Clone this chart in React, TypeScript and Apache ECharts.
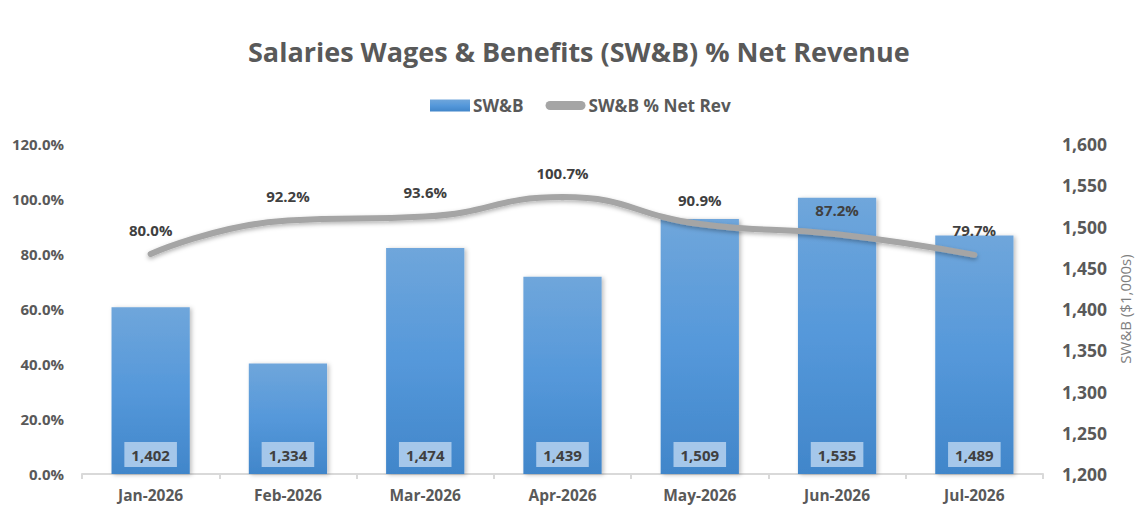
import React, { useEffect, useRef } from "react";
import * as echarts from "echarts";

const categories = ["Jan-2026", "Feb-2026", "Mar-2026", "Apr-2026", "May-2026", "Jun-2026", "Jul-2026"];
const swbValues = [1402, 1334, 1474, 1439, 1509, 1535, 1489];
const pctValues = [80.0, 92.2, 93.6, 100.7, 90.9, 87.2, 79.7];

const FONT = "Open Sans";
const AXIS_COLOR = "#595959";
const LINE_ICON = "path://M5,0 L39,0 A5,5 0 0 1 39,10 L5,10 A5,5 0 0 1 5,0 Z";

export default function App() {
  const ref = useRef<HTMLDivElement>(null);
  useEffect(() => {
    if (!ref.current) return;
    const chart = echarts.init(ref.current, null, { renderer: "svg" });
    chart.setOption({
      animation: false,
      backgroundColor: "#ffffff",
      textStyle: { fontFamily: FONT },
      title: {
        text: "Salaries Wages & Benefits (SW&B) % Net Revenue",
        left: 243,
        top: 33,
        textStyle: { fontFamily: FONT, fontSize: 27, fontWeight: "bold", color: AXIS_COLOR },
      },
      legend: {
        top: 92,
        left: 425,
        itemWidth: 40,
        itemHeight: 12,
        itemGap: 22,
        textStyle: { fontFamily: FONT, fontSize: 17.2, fontWeight: "bold", color: AXIS_COLOR, padding: [0, 0, 0, -2] },
        data: [
          { name: "SW&B", icon: "rect" },
          { name: "SW&B % Net Rev", icon: LINE_ICON, itemStyle: { color: "#a5a5a5" } },
        ],
      },
      grid: { left: 82, right: 101, top: 144, bottom: 43, containLabel: false },
      xAxis: {
        type: "category",
        data: categories,
        boundaryGap: true,
        axisLine: { show: true, lineStyle: { color: "#d9d9d9", width: 2 } },
        axisTick: { show: true, alignWithLabel: false, length: 5, lineStyle: { color: "#d9d9d9", width: 2 } },
        axisLabel: { fontFamily: FONT, fontSize: 15.5, fontWeight: "bold", color: AXIS_COLOR, margin: 13 },
      },
      yAxis: [
        {
          type: "value",
          min: 0,
          max: 120,
          interval: 20,
          position: "left",
          splitLine: { show: false },
          axisLine: { show: false },
          axisTick: { show: false },
          axisLabel: {
            fontFamily: FONT,
            fontSize: 15,
            fontWeight: "bold",
            color: AXIS_COLOR,
            margin: 18,
            formatter: (v: number) => v.toFixed(1) + "%",
          },
        },
        {
          type: "value",
          min: 1200,
          max: 1600,
          interval: 50,
          position: "right",
          splitLine: { show: false },
          axisLine: { show: false },
          axisTick: { show: false },
          name: "SW&B ($1,000s)",
          nameLocation: "middle",
          nameRotate: 90,
          nameGap: 74,
          nameTextStyle: { fontFamily: FONT, fontSize: 15, color: "#7f7f7f" },
          axisLabel: {
            fontFamily: FONT,
            fontSize: 17.5,
            fontWeight: "bold",
            color: AXIS_COLOR,
            margin: 19,
            formatter: (v: number) => v.toLocaleString("en-US"),
          },
        },
      ],
      series: [
        {
          name: "SW&B",
          type: "bar",
          yAxisIndex: 1,
          data: swbValues,
          barWidth: "57%",
          itemStyle: {
            color: new echarts.graphic.LinearGradient(0, 0, 0, 1, [
              { offset: 0, color: "#6fa6db" },
              { offset: 0.5, color: "#5598da" },
              { offset: 1, color: "#4186ca" },
            ]),
            shadowColor: "rgba(0,0,0,0.25)",
            shadowBlur: 4,
            shadowOffsetX: 2,
            shadowOffsetY: 1,
          },
          label: {
            show: true,
            position: "insideBottom",
            distance: 7,
            fontFamily: FONT,
            fontSize: 15,
            fontWeight: "bold",
            color: "#404040",
            backgroundColor: "#a5c7ea",
            padding: [5, 7, 5, 7],
            formatter: (p: any) => Number(p.value).toLocaleString("en-US"),
          },
        },
        {
          name: "SW&B % Net Rev",
          type: "line",
          yAxisIndex: 0,
          data: pctValues,
          smooth: 0.5,
          symbol: "circle",
          symbolSize: 2,
          showSymbol: true,
          lineStyle: {
            color: "#a5a5a5",
            width: 6,
            cap: "round",
            shadowColor: "rgba(0,0,0,0.3)",
            shadowBlur: 4,
            shadowOffsetY: 2,
          },
          itemStyle: { color: "#a5a5a5" },
          label: {
            show: true,
            position: "top",
            distance: 16,
            fontFamily: FONT,
            fontSize: 15,
            fontWeight: "bold",
            color: "#404040",
            formatter: (p: any) => Number(p.value).toFixed(1) + "%",
          },
          z: 5,
        },
      ],
    });
    return () => chart.dispose();
  }, []);
  return <div ref={ref} style={{ position: "fixed", left: 0, top: 0, width: 1144, height: 517 }} />;
}
